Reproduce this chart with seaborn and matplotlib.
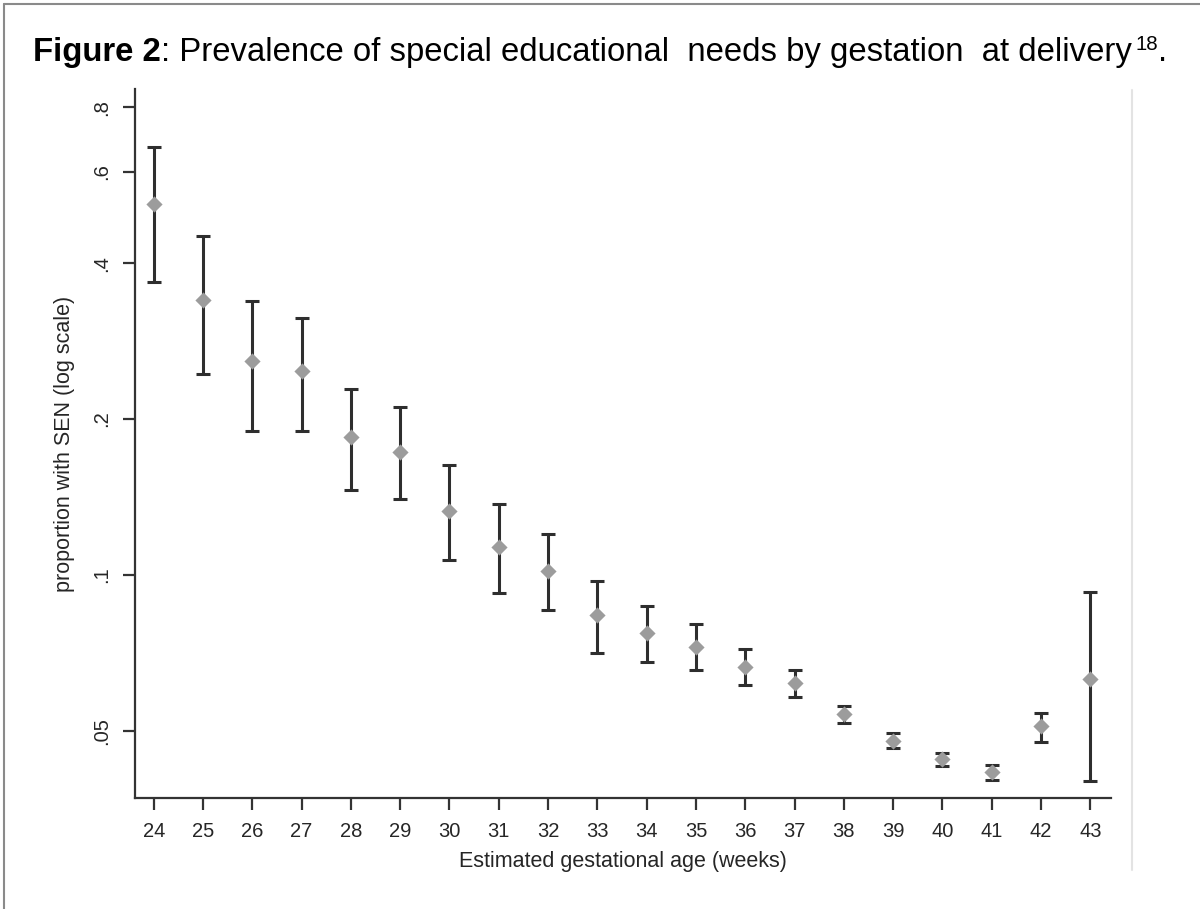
import matplotlib
matplotlib.use("Agg")
import matplotlib.pyplot as plt
import seaborn as sns
import numpy as np
import pandas as pd
from matplotlib.lines import Line2D

# ---- data ----
weeks = [24, 25, 26, 27, 28, 29, 30, 31, 32, 33, 34, 35, 36, 37, 38, 39, 40, 41, 42, 43]
prop = [0.520, 0.339, 0.259, 0.248, 0.185, 0.173, 0.133, 0.113, 0.1016, 0.0835,
        0.0771, 0.0726, 0.0664, 0.0617, 0.0538, 0.0478, 0.0440, 0.0416, 0.0511, 0.0630]
ci_low = [0.368, 0.244, 0.190, 0.190, 0.146, 0.140, 0.107, 0.0923, 0.0857, 0.0706,
          0.0678, 0.0654, 0.0612, 0.0581, 0.0518, 0.0462, 0.0427, 0.0402, 0.0476, 0.0400]
ci_high = [0.671, 0.451, 0.338, 0.314, 0.229, 0.211, 0.163, 0.137, 0.120, 0.0973,
           0.0870, 0.0805, 0.0718, 0.0654, 0.0559, 0.0495, 0.0452, 0.0429, 0.0542, 0.0927]
y_ticks = [0.05, 0.1, 0.2, 0.4, 0.6, 0.8]
y_tick_labels = [".05", ".1", ".2", ".4", ".6", ".8"]

df = pd.DataFrame({"week": weeks, "prop": prop, "lo": ci_low, "hi": ci_high})

sns.set_theme(style="white")
plt.rcParams["font.family"] = ["Liberation Sans", "DejaVu Sans"]

fig = plt.figure(figsize=(12, 9.09), dpi=100)
ax = fig.add_axes([0.1125, 0.1224, 0.8133, 0.7794])

dark = "#2e2e2e"
ax.errorbar(df["week"], df["prop"],
            yerr=[df["prop"] - df["lo"], df["hi"] - df["prop"]],
            fmt="none", ecolor=dark, elinewidth=2.2, capsize=5, capthick=2.2, zorder=2)
sns.scatterplot(data=df, x="week", y="prop", ax=ax, marker="D", s=68,
                color="#9c9c9c", edgecolor="#9c9c9c", linewidth=0, zorder=3, legend=False)

ax.set_yscale("log")
ax.set_ylim(0.0371, 0.867)
ax.set_xlim(23.62, 43.42)
ax.set_xticks(weeks)
ax.set_xticklabels([str(w) for w in weeks])
ax.set_yticks(y_ticks)
ax.set_yticklabels(y_tick_labels, rotation=90, va="center")
ax.minorticks_off()

for s in ["top", "right"]:
    ax.spines[s].set_visible(False)
for s in ["left", "bottom"]:
    ax.spines[s].set_color("#333333")
    ax.spines[s].set_linewidth(1.6)

ax.tick_params(axis="both", which="major", direction="out", length=8.5, width=1.6,
               color="#333333", labelsize=14.5, labelcolor="#262626", bottom=True, left=True)
ax.tick_params(axis="x", pad=9)
ax.tick_params(axis="y", pad=9)

ax.set_xlabel("Estimated gestational age (weeks)", fontsize=15.5, color="#262626", labelpad=7)
ax.set_ylabel("proportion with SEN (log scale)", fontsize=15.5, color="#262626", labelpad=12)

# title with bold prefix, placed piece by piece
fig.canvas.draw()
renderer = fig.canvas.get_renderer()
ty = 1 - 61 / 909
tsize = 23.7
pieces = [("Figure 2", "bold", tsize, 0),
          (": Prevalence of special educational  needs by gestation  at delivery", "normal", tsize, 0),
          ("18", "normal", tsize * 0.62, 0.012),
          (".", "normal", tsize, 0)]
x = 33 / 1200
for txt, wt, fs, dy in pieces:
    t = fig.text(x, ty + dy, txt, fontsize=fs, fontweight=wt, color="black", va="baseline")
    bb = t.get_window_extent(renderer=renderer)
    x = bb.x1 / 1200 + (0.003 if txt.endswith("delivery") else 0.0)

# light vertical rule at right of plot region and partial frame
fig.add_artist(Line2D([0.9435, 0.9435], [0.043, 0.901], transform=fig.transFigure,
                      color="#e3e3e3", linewidth=1.5))
fig.add_artist(Line2D([0.003, 0.003], [0.0, 0.996], transform=fig.transFigure,
                      color="#8a8a8a", linewidth=1.5))
fig.add_artist(Line2D([0.003, 1.0], [0.996, 0.996], transform=fig.transFigure,
                      color="#8a8a8a", linewidth=1.5))

fig.savefig("out.png", dpi=100)
